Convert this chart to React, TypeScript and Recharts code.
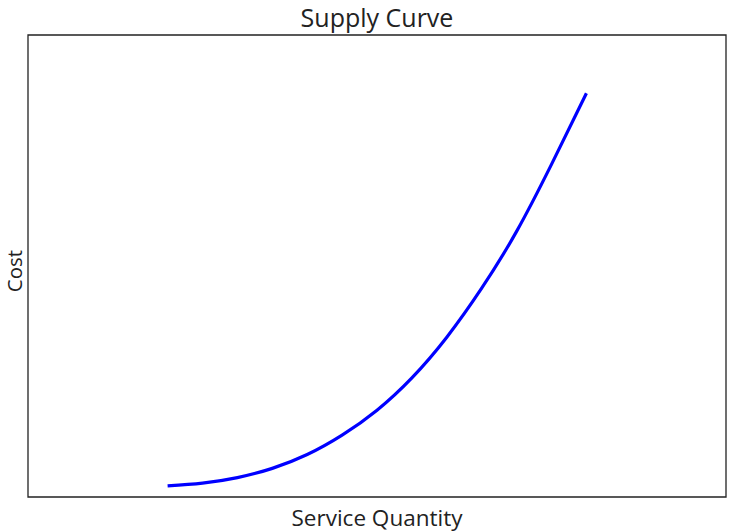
import React from 'react';
import { LineChart, Line, XAxis, YAxis, Label, ReferenceArea } from 'recharts';

const quantity = [2, 2.5, 3, 3.5, 4, 4.5, 5, 5.5, 6, 6.5, 7, 7.5, 8];
const cost = [2.4, 3.0, 4.2, 6.2, 9.2, 13.4, 18.8, 25.8, 34.6, 45.2, 57.5, 72.0, 87.4];
const xDomain = [0, 10];
const yDomain = [0, 100];
const title = 'Supply Curve';
const xTitle = 'Service Quantity';
const yTitle = 'Cost';

const data = quantity.map((q, i) => ({ q, c: cost[i] }));
const FONT = '"Open Sans", sans-serif';

export default function App() {
  return (
    <div style={{ position: 'absolute', left: 0, top: 0, width: 748, height: 532, background: '#fff' }}>
      <LineChart width={748} height={532} data={data} margin={{ top: 35, right: 22, bottom: 35, left: 28 }}>
        <XAxis dataKey="q" type="number" domain={xDomain} hide allowDataOverflow />
        <YAxis type="number" domain={yDomain} hide allowDataOverflow />
        <ReferenceArea x1={xDomain[0]} x2={xDomain[1]} y1={yDomain[0]} y2={yDomain[1]} fill="none" fillOpacity={0} stroke="#222" strokeWidth={1.3} ifOverflow="visible">
          <Label
            content={(p: any) => {
              const vb = p.viewBox;
              const cx = vb.x - 6;
              const cy = vb.y + vb.height / 2 + 5;
              return (
                <g>
                  <text x={vb.x + vb.width / 2} y={vb.y - 8} textAnchor="middle" fontFamily={FONT} fontSize={25} fill="#222">
                    {title}
                  </text>
                  <text x={vb.x + vb.width / 2} y={vb.y + vb.height + 29} textAnchor="middle" fontFamily={FONT} fontSize={22.5} fill="#222">
                    {xTitle}
                  </text>
                  <text x={cx} y={cy} transform={`rotate(-90 ${cx} ${cy})`} textAnchor="middle" fontFamily={FONT} fontSize={20.5} fill="#222">
                    {yTitle}
                  </text>
                </g>
              );
            }}
          />
        </ReferenceArea>
        <Line dataKey="c" type="natural" stroke="#0000ff" strokeWidth={3.2} dot={false} isAnimationActive={false} />
      </LineChart>
    </div>
  );
}
